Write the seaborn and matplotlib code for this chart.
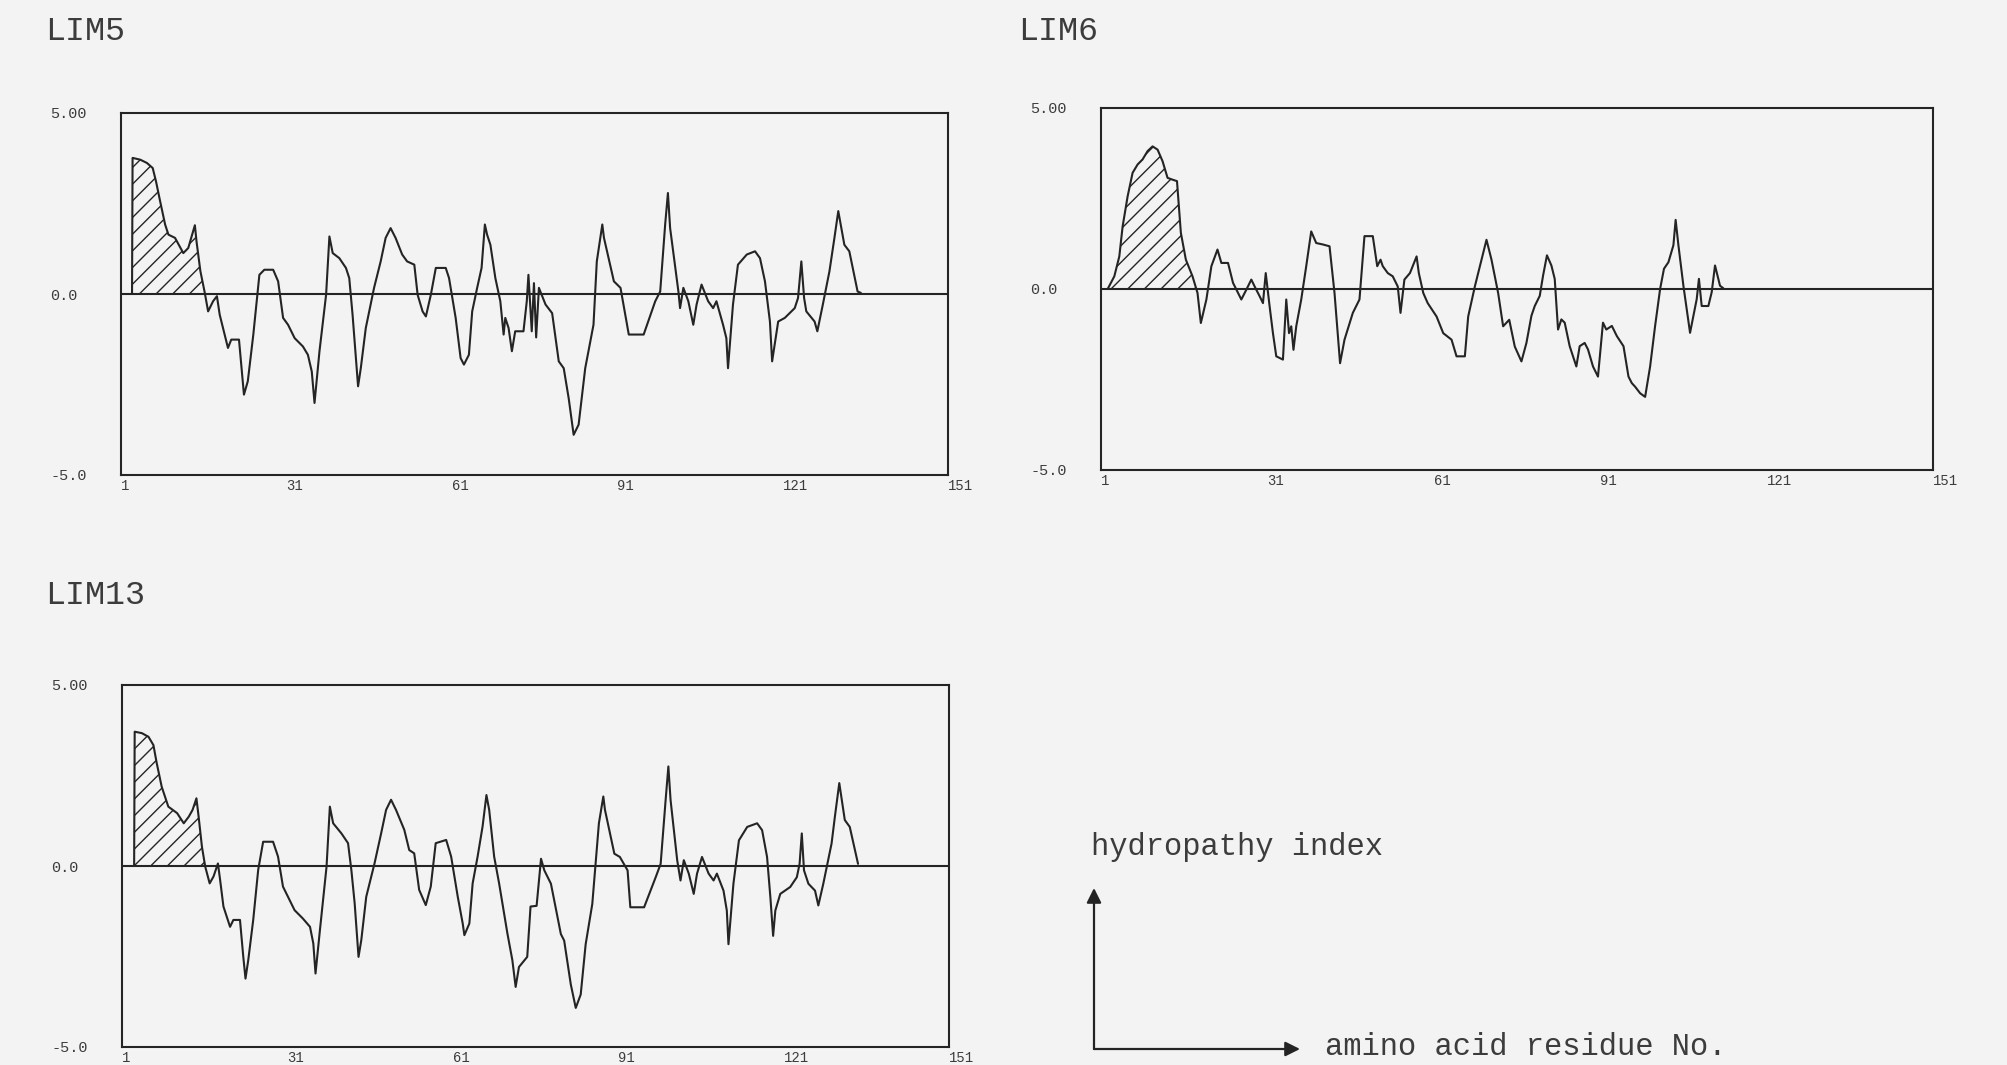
import numpy as np
import pandas as pd
import seaborn as sns
import matplotlib.pyplot as plt

# hydropathy profiles: residue No. and index value
lim5_res = [3.0, 3.1, 4.5, 5.7, 6.75, 7.35, 8.1, 9.0, 9.6, 10.8, 12.3, 13.2, 14.4, 14.7, 15.4, 16.2,
            16.8, 17.7, 18.4, 18.9, 19.8, 20.4, 21.0, 22.4, 23.3, 24.0, 25.0, 26.1, 27.0, 28.6,
            29.5, 30.4, 31.3, 32.5, 34.0, 34.9, 35.6, 36.1, 37.0, 38.2, 38.8, 39.4, 40.6, 41.8,
            42.4, 43.0, 44.0, 44.5, 45.4, 46.9, 48.1, 49.0, 49.9, 50.8, 52.0, 52.9, 54.2, 54.8,
            55.7, 56.3, 57.2, 58.1, 59.9, 60.5, 61.7, 62.6, 63.2, 64.1, 64.7, 65.6, 66.4, 67.0,
            67.4, 68.0, 68.9, 69.8, 70.4, 70.7, 71.3, 71.9, 72.5, 74.0, 74.6, 74.9, 75.5, 75.9,
            76.3, 76.8, 77.3, 78.0, 79.2, 80.4, 81.3, 82.2, 83.1, 84.0, 85.2, 86.7, 87.3, 88.3,
            88.6, 90.4, 91.6, 93.1, 95.8, 97.9, 98.8, 99.7, 100.2, 100.6, 102.1, 102.4, 103.0,
            103.9, 104.8, 105.4, 106.3, 107.5, 108.4, 109.0, 110.2, 110.8, 111.1, 112.0, 112.9,
            114.5, 116.0, 116.9, 117.8, 118.7, 119.1, 120.2, 121.4, 123.2, 123.8, 124.4, 124.9,
            125.3, 126.8, 127.3, 128.3, 129.5, 130.4, 131.1, 132.2, 133.1, 134.6, 135.2]
lim5_val = [0.0, 3.76, 3.71, 3.62, 3.48, 3.11, 2.56, 1.92, 1.64, 1.55, 1.13, 1.27, 1.90, 1.45, 0.63, 0.03,
            -0.48, -0.20, -0.06, -0.57, -1.12, -1.49, -1.26, -1.26, -2.78, -2.41, -1.12, 0.53, 0.67, 0.67,
            0.35, -0.66, -0.85, -1.22, -1.45, -1.68, -2.14, -3.01, -1.58, -0.02, 1.59, 1.13, 0.99, 0.72,
            0.44, -0.57, -2.55, -2.04, -0.94, 0.17, 0.90, 1.55, 1.82, 1.55, 1.09, 0.90, 0.81, -0.02,
            -0.48, -0.62, -0.02, 0.72, 0.72, 0.44, -0.66, -1.77, -1.95, -1.68, -0.48, 0.17, 0.72, 1.92,
            1.64, 1.36, 0.44, -0.20, -1.12, -0.66, -0.94, -1.58, -1.03, -1.03, -0.20, 0.53, -1.03, 0.30,
            -1.20, 0.17, -0.02, -0.29, -0.53, -1.86, -2.05, -2.88, -3.89, -3.61, -2.05, -0.85, 0.90, 1.92,
            1.55, 0.35, 0.17, -1.12, -1.12, -0.20, 0.07, 1.92, 2.79, 1.82, 0.07, -0.39, 0.17,
            -0.20, -0.85, -0.29, 0.26, -0.20, -0.39, -0.20, -0.85, -1.22, -2.05, -0.29, 0.81,
            1.09, 1.18, 0.99, 0.35, -0.76, -1.86, -0.76, -0.66, -0.39, -0.11, 0.90, -0.11,
            -0.48, -0.76, -1.03, -0.29, 0.63, 1.55, 2.29, 1.36, 1.18, 0.07, 0.03]

lim6_res = [2.2, 3.4, 4.3, 4.9, 5.8, 6.7, 7.6, 8.5, 9.4, 10.3, 11.2, 12.1, 13.0, 13.9, 14.7, 15.4,
            16.3, 17.5, 18.4, 19.0, 20.0, 20.9, 22.0, 22.7, 23.9, 24.8, 26.3, 27.2, 28.1, 28.7, 29.6,
            30.2, 30.7, 31.4, 32.0, 32.6, 33.8, 34.4, 34.9, 35.3, 35.7, 36.2, 37.1, 38.0, 38.9, 39.8,
            41.0, 42.2, 43.1, 44.1, 44.9, 46.4, 47.6, 48.5, 50.0, 50.8, 51.4, 51.8, 52.7, 53.6, 54.5,
            55.0, 55.7, 56.7, 57.9, 58.3, 59.1, 59.9, 61.5, 62.7, 64.2, 65.1, 66.6, 67.2, 68.4, 69.6,
            70.5, 71.4, 72.6, 73.5, 74.6, 75.6, 76.8, 77.7, 78.6, 79.2, 80.1, 80.7, 81.4, 82.2, 82.8,
            83.4, 84.0, 84.6, 85.5, 86.7, 87.3, 88.2, 88.8, 89.7, 90.6, 91.5, 92.1, 93.1, 94.0, 95.2,
            96.1, 96.7, 97.3, 98.2, 99.1, 100.0, 100.9, 101.8, 102.5, 103.3, 104.2, 104.6, 105.1,
            106.0, 106.6, 107.2, 107.8, 108.4, 108.8, 109.3, 110.5, 111.1, 111.7, 112.6, 113.2]
lim6_val = [0.0, 0.35, 0.90, 1.73, 2.56, 3.21, 3.44, 3.58, 3.81, 3.94, 3.85, 3.53, 3.07, 3.02, 2.98, 1.55,
            0.81, 0.35, -0.11, -0.94, -0.29, 0.63, 1.09, 0.72, 0.72, 0.17, -0.29, -0.02, 0.26, 0.07, -0.20,
            -0.39, 0.44, -0.48, -1.22, -1.86, -1.95, -0.29, -1.22, -1.03, -1.68, -1.03, -0.29, 0.63, 1.59, 1.27,
            1.23, 1.18, -0.11, -2.05, -1.40, -0.66, -0.29, 1.46, 1.46, 0.63, 0.81, 0.63, 0.44, 0.35, 0.07,
            -0.66, 0.26, 0.44, 0.90, 0.44, -0.11, -0.39, -0.76, -1.22, -1.40, -1.86, -1.86, -0.76, 0.07, 0.81,
            1.36, 0.81, -0.11, -1.03, -0.85, -1.59, -2.00, -1.49, -0.74, -0.47, -0.19, 0.37, 0.93, 0.65, 0.28,
            -1.12, -0.84, -0.93, -1.58, -2.14, -1.58, -1.49, -1.67, -2.14, -2.42, -0.93, -1.12, -1.02, -1.30, -1.58,
            -2.42, -2.60, -2.70, -2.88, -2.98, -2.14, -1.02, 0.0, 0.56, 0.74, 1.21, 1.91, 1.21,
            0.09, -0.56, -1.21, -0.74, -0.28, 0.28, -0.47, -0.47, -0.09, 0.65, 0.09, 0.02]

lim13_res = [3.2, 3.3, 4.6, 5.8, 6.7, 7.3, 8.2, 9.4, 11.0, 12.2, 13.1, 13.8, 14.5, 14.9, 15.5, 16.1, 16.9,
             17.6, 18.4, 18.8, 19.4, 20.6, 21.2, 22.4, 23.0, 23.4, 23.9, 24.8, 25.7, 26.6, 28.4, 29.3,
             30.2, 31.1, 32.3, 33.8, 35.1, 35.7, 36.1, 36.9, 38.1, 38.7, 39.3, 40.8, 42.0, 42.6, 43.2,
             43.9, 44.4, 45.3, 46.8, 48.0, 48.9, 49.8, 50.7, 52.2, 53.1, 54.0, 54.9, 56.1, 57.0, 57.9,
             59.8, 60.7, 61.9, 62.8, 63.1, 64.0, 64.6, 65.5, 66.4, 67.1, 67.6, 68.5, 69.4, 70.9, 71.8,
             72.4, 73.0, 74.5, 75.1, 76.2, 77.0, 77.6, 78.8, 80.6, 81.2, 82.4, 83.3, 84.2, 85.1, 86.3,
             86.9, 87.5, 88.3, 88.6, 90.3, 91.3, 92.7, 93.2, 95.7, 97.8, 98.7, 99.6, 100.1, 100.5,
             101.7, 102.3, 102.9, 103.8, 104.7, 105.3, 106.2, 107.4, 108.3, 108.9, 110.1, 110.7, 111.0,
             111.9, 112.9, 114.4, 116.2, 117.1, 118.0, 118.6, 119.1, 119.5, 120.4, 122.2, 123.4, 123.9,
             124.3, 124.7, 125.5, 126.7, 127.3, 128.2, 129.7, 130.3, 131.1, 132.1, 133.0, 134.5]
lim13_val = [0.0, 3.71, 3.67, 3.57, 3.34, 2.84, 2.19, 1.64, 1.46, 1.18, 1.36, 1.55, 1.87, 1.36, 0.53, -0.02, -0.48,
             -0.29, 0.07, -0.39, -1.12, -1.68, -1.49, -1.49, -2.51, -3.11, -2.60, -1.49, -0.11, 0.67, 0.67, 0.26,
             -0.57, -0.85, -1.22, -1.45, -1.68, -2.14, -2.97, -1.77, -0.02, 1.64, 1.18, 0.90, 0.63, -0.11, -1.03,
             -2.51, -2.05, -0.85, 0.07, 0.90, 1.55, 1.83, 1.55, 1.00, 0.44, 0.35, -0.66, -1.08, -0.57, 0.63,
             0.72, 0.26, -0.85, -1.59, -1.91, -1.59, -0.48, 0.26, 1.09, 1.96, 1.55, 0.26, -0.48, -1.86, -2.60,
             -3.34, -2.79, -2.51, -1.12, -1.10, 0.20, -0.12, -0.49, -1.88, -2.06, -3.27, -3.92, -3.55, -2.16, -1.05,
             0.06, 1.18, 1.92, 1.55, 0.34, 0.25, -0.12, -1.14, -1.14, -0.31, 0.06, 1.82, 2.75, 1.82,
             0.16, -0.40, 0.16, -0.21, -0.77, -0.21, 0.25, -0.21, -0.40, -0.21, -0.68, -1.23, -2.16,
             -0.49, 0.71, 1.08, 1.18, 0.99, 0.25, -0.86, -1.93, -1.23, -0.77, -0.58, -0.31, 0.06,
             0.90, -0.12, -0.49, -0.68, -1.09, -0.49, 0.62, 1.36, 2.29, 1.27, 1.08, 0.06]

x_ticks = [1, 31, 61, 91, 121, 151]
y_ticks = [-5, 0, 5]
y_tick_labels = ["-5.0", "0.0", "5.00"]

INK = "#242424"
TEXT = "#3c3c3c"
PAPER = "#f3f3f3"
W, H = 2007, 1065

sns.set_style("white")
plt.rcParams['font.family'] = ['Liberation Mono', 'DejaVu Sans Mono']
plt.rcParams['hatch.linewidth'] = 1.0

fig = plt.figure(figsize=(W / 100, H / 100), dpi=100, facecolor=PAPER)


def draw_panel(box, res, val, name, title_pos):
    # box given in pixels: left, top, right, bottom
    l, t, r, b = box
    ax = fig.add_axes([l / W, 1 - b / H, (r - l) / W, (b - t) / H])
    ax.set_facecolor(PAPER)
    df = pd.DataFrame({"res": res, "val": val})

    # hatch the N-terminal hydrophobic stretch up to its first zero crossing
    first_neg = int(np.argmax(df["val"].values < 0))
    head = df.iloc[:first_neg + 1]
    ax.fill_between(head["res"], head["val"], 0, where=head["val"] >= 0, interpolate=True,
                    facecolor="none", edgecolor=INK, hatch="//", linewidth=0)

    sns.lineplot(data=df, x="res", y="val", sort=False, estimator=None,
                 color=INK, linewidth=1.5, ax=ax)
    ax.axhline(0, color=INK, linewidth=1.5)

    ax.set_xlim(1, 151)
    ax.set_ylim(-5, 5)
    ax.set_xlabel("")
    ax.set_ylabel("")
    ax.set_xticks(x_ticks, labels=[str(v) for v in x_ticks])
    ax.set_yticks(y_ticks, labels=y_tick_labels)
    ax.tick_params(axis="x", direction="in", length=9, width=1.3, pad=3,
                   labelsize=10, colors=INK, labelcolor=TEXT)
    ax.tick_params(axis="y", length=0, pad=51, labelsize=11, labelcolor=TEXT)
    for lab in ax.get_xticklabels():
        lab.set_ha("left")
    for lab in ax.get_yticklabels():
        lab.set_ha("left")
    for sp in ax.spines.values():
        sp.set_visible(True)
        sp.set_color(INK)
        sp.set_linewidth(1.5)

    fig.text(title_pos[0] / W, 1 - title_pos[1] / H, name, ha="left", va="center",
             fontsize=24, color=TEXT)
    return ax


draw_panel((121, 113, 948, 475), lim5_res, lim5_val, "LIM5", (45, 32))
draw_panel((1101, 108, 1933, 470), lim6_res, lim6_val, "LIM6", (1018, 32))
draw_panel((122, 685, 949, 1047), lim13_res, lim13_val, "LIM13", (45, 595))

# axis key in the lower right
key = fig.add_axes([0, 0, 1, 1])
key.set_xlim(0, W)
key.set_ylim(H, 0)
key.axis("off")
key.patch.set_alpha(0)
arrow = dict(arrowstyle="-|>", color=INK, lw=1.6, mutation_scale=22, shrinkA=0, shrinkB=0)
key.annotate("", xy=(1094, 888), xytext=(1094, 1049), arrowprops=arrow)
key.annotate("", xy=(1300, 1049), xytext=(1094, 1049), arrowprops=arrow)
key.text(1091, 847, "hydropathy index", ha="left", va="center", fontsize=22, color=TEXT)
key.text(1325, 1047, "amino acid residue No.", ha="left", va="center", fontsize=22, color=TEXT)

fig.savefig("out.png", dpi=100, facecolor=PAPER)
plt.close(fig)
